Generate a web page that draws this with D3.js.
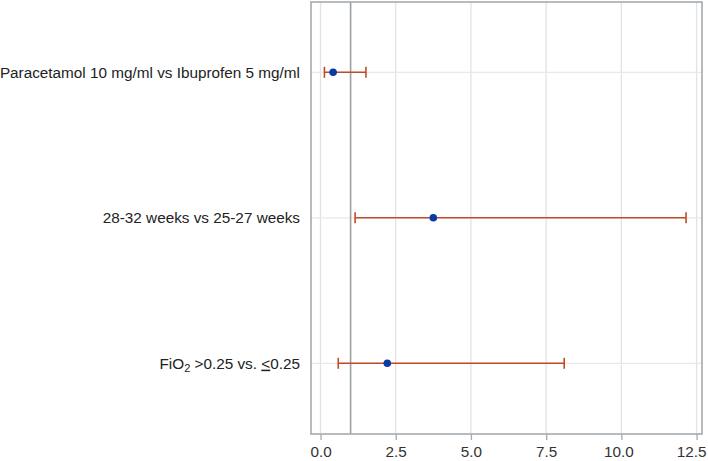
<!DOCTYPE html>
<html><head><meta charset="utf-8">
<script src="https://cdn.jsdelivr.net/npm/d3@7"></script>
<style>body{margin:0;background:#fff}</style>
</head><body>
<svg id="c" width="708" height="461"></svg>
<script>
const categories = ["Paracetamol 10 mg/ml vs Ibuprofen 5 mg/ml", "28-32 weeks vs 25-27 weeks", "FiO2 >0.25 vs. <0.25"];
const estimates = [0.42, 3.75, 2.22];
const lower = [0.13, 1.15, 0.59];
const upper = [1.51, 12.15, 8.1];
const xTicks = [0, 2.5, 5, 7.5, 10, 12.5];
const refValue = 1;

const svg = d3.select("#c");
const L = 311, R = 702, T = 2, B = 434;
const x = d3.scaleLinear().domain([-0.316, 12.68]).range([L, R]);
const y = d3.scalePoint().domain(categories).range([72.3, 363.3]);

// grid
svg.append("g").selectAll("line").data(xTicks).join("line")
  .attr("x1", d => x(d)).attr("x2", d => x(d)).attr("y1", T).attr("y2", B)
  .attr("stroke", "#e3e3e3").attr("stroke-width", 1.3);
svg.append("g").selectAll("line").data(categories).join("line")
  .attr("x1", L).attr("x2", R).attr("y1", d => y(d)).attr("y2", d => y(d))
  .attr("stroke", "#e8e8e8").attr("stroke-width", 1.3);

// reference line
svg.append("line").attr("x1", x(refValue)).attr("x2", x(refValue)).attr("y1", T).attr("y2", B)
  .attr("stroke", "#9aa0a4").attr("stroke-width", 1.6);

// border
svg.append("rect").attr("x", L).attr("y", T).attr("width", R - L).attr("height", B - T)
  .attr("fill", "none").attr("stroke", "#a4abaf").attr("stroke-width", 1.6);

// x axis
const ax = svg.append("g").attr("transform", `translate(0,${B})`)
  .call(d3.axisBottom(x).tickValues(xTicks).tickFormat(d3.format(".1f")).tickSize(6).tickPadding(6.5));
ax.select(".domain").remove();
ax.selectAll(".tick line").attr("stroke", "#a4abaf").attr("stroke-width", 1.3);
ax.selectAll(".tick text").attr("font-family", "Liberation Sans, Arial, sans-serif")
  .attr("font-size", 15.3).attr("fill", "#333");
ax.selectAll(".tick text").filter(d => d === 12.5).attr("text-anchor", "end").attr("x", 706 - x(12.5));
ax.selectAll(".tick text").filter(d => d === 10).attr("dx", -3);

// error bars
const col = "#c24a26";
const g = svg.append("g");
categories.forEach((c, i) => {
  const yy = y(c);
  g.append("line").attr("x1", x(lower[i])).attr("x2", x(upper[i])).attr("y1", yy).attr("y2", yy)
    .attr("stroke", col).attr("stroke-width", 1.6);
  [lower[i], upper[i]].forEach(v => g.append("line").attr("x1", x(v)).attr("x2", x(v))
    .attr("y1", yy - 5.5).attr("y2", yy + 5.5).attr("stroke", col).attr("stroke-width", 1.6));
  g.append("circle").attr("cx", x(estimates[i])).attr("cy", yy).attr("r", 3.8).attr("fill", "#0b3aa6");
});

// labels
const lab = svg.append("g").attr("font-family", "Liberation Sans, Arial, sans-serif")
  .attr("font-size", 15.3).attr("fill", "#222");
categories.forEach((c, i) => {
  const t = lab.append("text").attr("x", 300).attr("y", y(c)).attr("dy", "0.35em").attr("text-anchor", "end");
  if (c.startsWith("FiO2")) {
    t.append("tspan").text("FiO");
    t.append("tspan").attr("font-size", 11).attr("dy", 3).text("2");
    t.append("tspan").attr("dy", -3).text(" >0.25 vs. ");
    t.append("tspan").attr("text-decoration", "underline").text("<");
    t.append("tspan").text("0.25");
  } else {
    t.text(c);
  }
});
</script>
</body></html>
